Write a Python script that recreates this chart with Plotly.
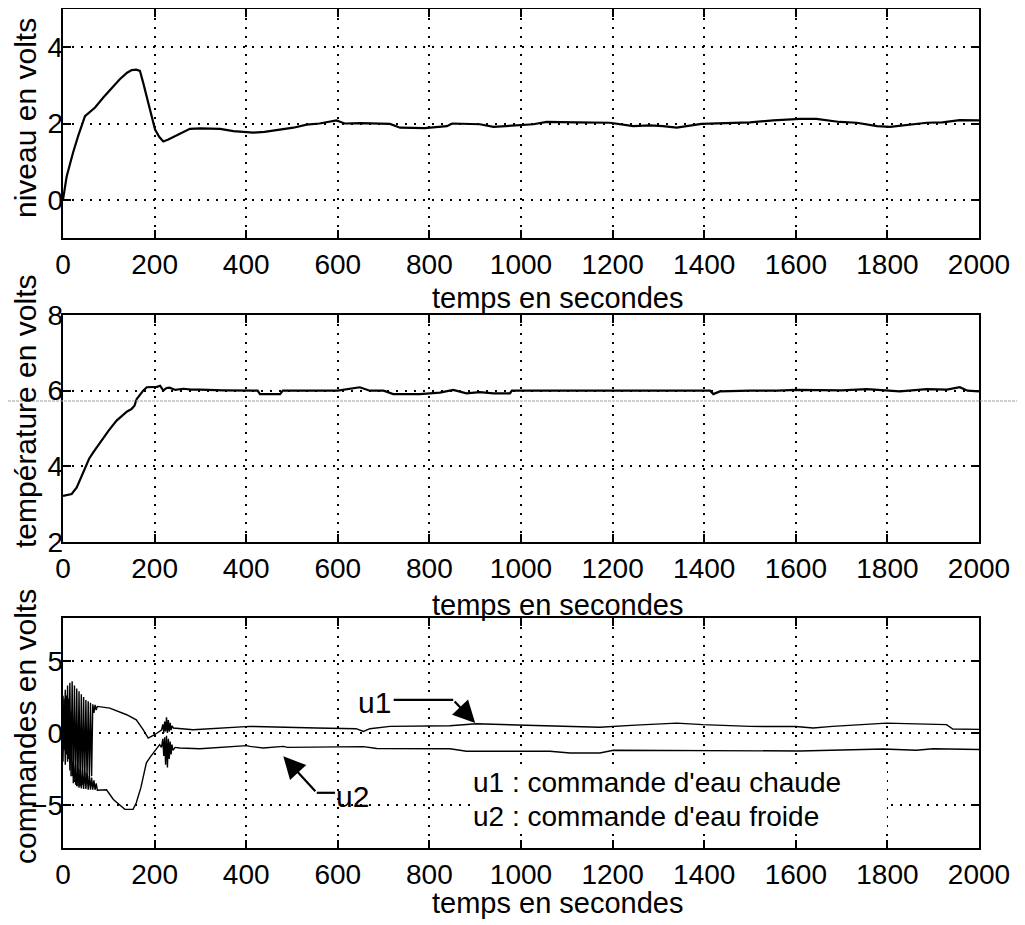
import plotly.graph_objects as go

# ---------------- data ----------------
t_niveau = [0, 8, 22, 33, 48, 70, 88, 106, 124, 140, 150, 160, 168, 175, 182,
            190, 201, 210, 219, 230, 241, 260, 277, 300, 320, 343, 372, 400, 415, 440,
            467, 485, 503, 532, 560, 597, 615, 650, 714, 736, 790, 838, 850, 910, 940,
            1027, 1056, 1120, 1194, 1245, 1282, 1310, 1340, 1394, 1454, 1500, 1551, 1609, 1645, 1696,
            1733, 1777, 1806, 1857, 1886, 1920, 1958, 2000]
niveau = [0.0, 0.61, 1.24, 1.67, 2.19, 2.42, 2.68, 2.92, 3.16, 3.33, 3.4, 3.41, 3.38, 3.07, 2.75,
          2.37, 1.84, 1.65, 1.53, 1.58, 1.65, 1.76, 1.86, 1.87, 1.87, 1.86, 1.8, 1.77, 1.76, 1.78,
          1.82, 1.85, 1.89, 1.97, 2.0, 2.08, 2.0, 2.01, 1.99, 1.89, 1.88, 1.93, 2.0, 1.98, 1.91,
          1.98, 2.04, 2.03, 2.02, 1.93, 1.95, 1.93, 1.89, 1.99, 2.02, 2.03, 2.08, 2.12, 2.12, 2.04,
          2.02, 1.93, 1.91, 1.97, 2.02, 2.03, 2.09, 2.08]

t_temp = [0, 10, 19, 30, 40, 48, 57, 66, 77, 88, 100, 117, 130, 140, 150,
          156, 161, 168, 175, 183, 195, 205, 212, 219, 226, 233, 245, 263, 280, 299,
          350, 397, 425, 430, 474, 480, 600, 648, 670, 700, 721, 779, 823, 852, 881,
          910, 940, 976, 980, 1100, 1200, 1300, 1413, 1420, 1434, 1500, 1560, 1600, 1680, 1700,
          1755, 1827, 1886, 1930, 1958, 1975, 2000]
temperature = [3.22, 3.24, 3.27, 3.44, 3.72, 3.97, 4.2, 4.37, 4.56, 4.76, 4.95, 5.21, 5.36, 5.45, 5.52,
               5.6, 5.78, 5.9, 6.0, 6.09, 6.1, 6.1, 6.13, 6.0, 6.07, 6.08, 6.02, 6.05, 6.03, 6.03,
               6.01, 6.0, 6.0, 5.91, 5.91, 6.0, 6.0, 6.09, 6.0, 6.0, 5.91, 5.91, 5.95, 6.02, 5.93,
               5.96, 5.93, 5.93, 6.0, 6.0, 6.0, 6.0, 6.0, 5.91, 5.98, 6.0, 6.0, 6.02, 6.0, 6.01,
               6.04, 5.98, 6.04, 6.03, 6.09, 6.0, 5.98]

t_u1 = [0, 2.5, 5, 7.5, 10, 12.5, 15, 17.5, 20, 22.5, 25, 27.5, 30, 32.5, 35,
        37.5, 40, 42.5, 45, 47.5, 50, 52.5, 55, 57.5, 60, 62.5, 65, 67.5, 70, 72.5,
        75, 102, 139, 160, 175, 186, 200, 212, 215, 218, 220, 222, 224, 226, 228,
        230, 232, 234, 236, 238, 241, 284, 357, 408, 554, 640, 656, 670, 714, 845,
        903, 1063, 1090, 1172, 1250, 1340, 1397, 1500, 1600, 1638, 1680, 1798, 1929, 1943, 2000]
u1 = [2.6, -1.2, 3.0, -1.5, 3.3, -1.8, 3.5, -3.0, 3.6, -3.5, 3.3, -3.6, 3.1, -3.7, 2.9,
      -3.7, 2.7, -3.6, 2.5, -3.4, 2.3, -3.3, 2.2, -3.2, 2.1, -3.0, 2.0, 1.4, 1.95, 1.6,
      1.85, 1.73, 1.27, 0.92, 0.23, -0.35, -0.12, 0.11, 0.2, 0.6, 0.0, 0.8, 0.1, 1.1, 0.0,
      0.9, 0.1, 0.7, 0.2, 0.5, 0.35, 0.23, 0.35, 0.46, 0.35, 0.3, 0.11, 0.3, 0.46, 0.5,
      0.64, 0.5, 0.46, 0.4, 0.55, 0.69, 0.58, 0.46, 0.45, 0.35, 0.46, 0.69, 0.58, 0.28, 0.25]

t_u2 = [0, 2.5, 5, 7.5, 10, 12.5, 15, 17.5, 20, 22.5, 25, 27.5, 30, 32.5, 35,
        37.5, 40, 42.5, 45, 47.5, 50, 52.5, 55, 57.5, 60, 62.5, 65, 67.5, 70, 72.5,
        75, 95, 110, 135, 153, 160, 170, 182, 190, 197, 211, 215, 218, 220, 222,
        224, 226, 228, 230, 232, 234, 236, 238, 240, 245, 255, 299, 401, 408, 437,
        481, 490, 656, 685, 845, 881, 1063, 1107, 1172, 1202, 1391, 1609, 1791, 1863, 1900, 2000]
u2 = [-2.0, 2.4, -2.2, 2.6, -2.0, 2.4, -2.6, 1.5, -3.0, -2.0, -3.4, -2.2, -3.7, -2.4, -3.8,
      -2.5, -3.85, -2.6, -3.9, -2.7, -3.9, -2.8, -3.95, -3.0, -3.95, -3.1, -3.95, -3.3, -3.95, -3.5,
      -3.98, -3.95, -4.62, -5.31, -5.31, -4.85, -3.8, -2.08, -1.7, -1.39, -0.81, -1.0, -0.4, -1.6, -0.3,
      -2.2, -0.2, -2.4, -0.4, -1.8, -0.6, -1.5, -0.8, -1.2, -1.0, -1.04, -1.1, -0.88, -0.93, -1.04,
      -0.93, -1.0, -0.95, -1.08, -1.1, -1.27, -1.27, -1.39, -1.39, -1.2, -1.23, -1.25, -1.11, -1.2, -1.1, -1.15]

x_ticks = [0, 200, 400, 600, 800, 1000, 1200, 1400, 1600, 1800, 2000]
y1_ticks = [0, 2, 4]
y2_ticks = [2, 4, 6, 8]
y3_ticks = [-5, 0, 5]

x_title = "temps en secondes"
y_titles = ["niveau en volts", "température en volts", "commandes en volts"]
legend_lines = ["u1 : commande d'eau chaude", "u2 : commande d'eau froide"]

# ---------------- figure ----------------
W, H = 1025, 925
OFF = 8                      # page body margin of the html page
ML = 63 - OFF                # plot area left edge (figure px)
PR = 979 - OFF               # plot area right edge (figure px)
PW = PR - ML
MR = W - PR
FONT = "Liberation Sans, Arial, Helvetica, sans-serif"


def ydom(top_page, bot_page):
    return [1 - (bot_page - OFF) / H, 1 - (top_page - OFF) / H]


def px_x(page_x):
    return (page_x - OFF - ML) / PW


def px_y(page_y):
    return 1 - (page_y - OFF) / H


fig = go.Figure()
line_main = dict(color="black", width=2.2)
fig.add_trace(go.Scatter(x=t_niveau, y=niveau, mode="lines", line=line_main, xaxis="x", yaxis="y"))
fig.add_trace(go.Scatter(x=t_temp, y=temperature, mode="lines", line=line_main, xaxis="x2", yaxis="y2"))
fig.add_trace(go.Scatter(x=t_u1, y=u1, mode="lines", line=dict(color="black", width=1.4), xaxis="x3", yaxis="y3"))
fig.add_trace(go.Scatter(x=t_u2, y=u2, mode="lines", line=dict(color="black", width=1.4), xaxis="x3", yaxis="y3"))
# empty traces so that the label-only y axes get drawn
for xa, ya in [("x", "y4"), ("x2", "y5"), ("x3", "y6")]:
    fig.add_trace(go.Scatter(x=[], y=[], mode="lines", xaxis=xa, yaxis=ya,
                             hoverinfo="skip", showlegend=False))

tickfont = dict(family=FONT, size=28, color="black")
grid = dict(showgrid=True, gridcolor="black", gridwidth=1.6, griddash="2px,7px",
            showline=True, linecolor="black", linewidth=2, mirror="ticks",
            ticks="inside", ticklen=8, tickcolor="black", tickwidth=1.5,
            zeroline=False, automargin=False, tickfont=tickfont)

xcommon = dict(grid, range=[0, 2000], tickvals=x_ticks)
ycommon = dict(grid, showticklabels=False)
# label-only y axes, set close to the frame as in the original
ylab = dict(showgrid=False, showline=False, zeroline=False, ticks="", automargin=False,
            tickfont=tickfont, anchor="free", position=0, side="left")

doms = [(9, 238), (315, 542), (618, 848)]
y_ranges = [[-1, 5], [2, 8], [-8, 8]]
layout = dict(
    width=W, height=H, paper_bgcolor="white", plot_bgcolor="white",
    margin=dict(l=ML, r=MR, t=0, b=0, autoexpand=False), showlegend=False,
    xaxis=dict(xcommon, anchor="y", domain=[0, 1]),
    xaxis2=dict(xcommon, anchor="y2", domain=[0, 1]),
    xaxis3=dict(xcommon, anchor="y3", domain=[0, 1]),
    yaxis=dict(ycommon, range=y_ranges[0], tickvals=y1_ticks, anchor="x", domain=ydom(*doms[0])),
    yaxis2=dict(ycommon, range=y_ranges[1], tickvals=y2_ticks, anchor="x2", domain=ydom(*doms[1])),
    yaxis3=dict(ycommon, range=y_ranges[2], tickvals=y3_ticks, anchor="x3", domain=ydom(*doms[2])),
    yaxis4=dict(ylab, overlaying="y", range=y_ranges[0], tickvals=y1_ticks),
    yaxis5=dict(ylab, overlaying="y2", range=y_ranges[1], tickvals=y2_ticks),
    yaxis6=dict(ylab, overlaying="y3", range=y_ranges[2], tickvals=y3_ticks),
)
fig.update_layout(**layout)

# y-axis titles (rotated)
for txt, yc in zip(y_titles, [118, 412, 727]):
    fig.add_annotation(text=txt, xref="paper", yref="paper", x=px_x(25), y=px_y(yc),
                       xanchor="center", yanchor="middle", textangle=-90, showarrow=False,
                       font=dict(family=FONT, size=30, color="black"))

# x-axis titles
for yc in [298, 605, 903]:
    fig.add_annotation(text=x_title, xref="paper", yref="paper", x=px_x(557), y=px_y(yc),
                       xanchor="center", yanchor="middle", showarrow=False,
                       font=dict(family=FONT, size=29, color="black"))

# white box behind the legend text (hides the grid like in the original)
fig.add_shape(type="rect", xref="x3", yref="y3", x0=889, x1=1799, y0=-7.0, y1=-2.55,
              fillcolor="white", line=dict(width=0), layer="above")
for txt, yc in zip(legend_lines, [782, 816]):
    fig.add_annotation(text=txt, xref="paper", yref="paper", x=px_x(472), y=px_y(yc),
                       xanchor="left", yanchor="middle", showarrow=False, borderpad=0,
                       font=dict(family=FONT, size=28, color="black"))

# u1 label with bent arrow
fig.add_annotation(text="u1", xref="x3", yref="y3", x=681, y=2.15, showarrow=False,
                   font=dict(family=FONT, size=30, color="black"))
fig.add_shape(type="line", xref="x3", yref="y3", x0=722, x1=852, y0=2.3, y1=2.3,
              line=dict(color="black", width=2.2), layer="above")
fig.add_annotation(text="", xref="x3", yref="y3", x=900, y=0.69, axref="x3", ayref="y3",
                   ax=852, ay=2.3, showarrow=True, arrowhead=2, arrowsize=2.0, arrowwidth=2.2,
                   arrowcolor="black")

# u2 label with bent arrow
fig.add_annotation(text="u2", xref="x3", yref="y3", x=632, y=-4.4, showarrow=False,
                   font=dict(family=FONT, size=30, color="black"))
fig.add_shape(type="line", xref="x3", yref="y3", x0=554, x1=594, y0=-4.16, y1=-4.16,
              line=dict(color="black", width=2.2), layer="above")
fig.add_annotation(text="", xref="x3", yref="y3", x=481, y=-1.62, axref="x3", ayref="y3",
                   ax=554, ay=-4.16, showarrow=True, arrowhead=2, arrowsize=2.0, arrowwidth=2.2,
                   arrowcolor="black")

# faint horizontal scan line across the page
fig.add_shape(type="line", xref="paper", yref="paper", x0=-ML / PW, x1=(W - ML) / PW,
              y0=px_y(401), y1=px_y(401), line=dict(color="#a0a0a0", width=1, dash="3px,1px"))

fig.write_html("out.html")
